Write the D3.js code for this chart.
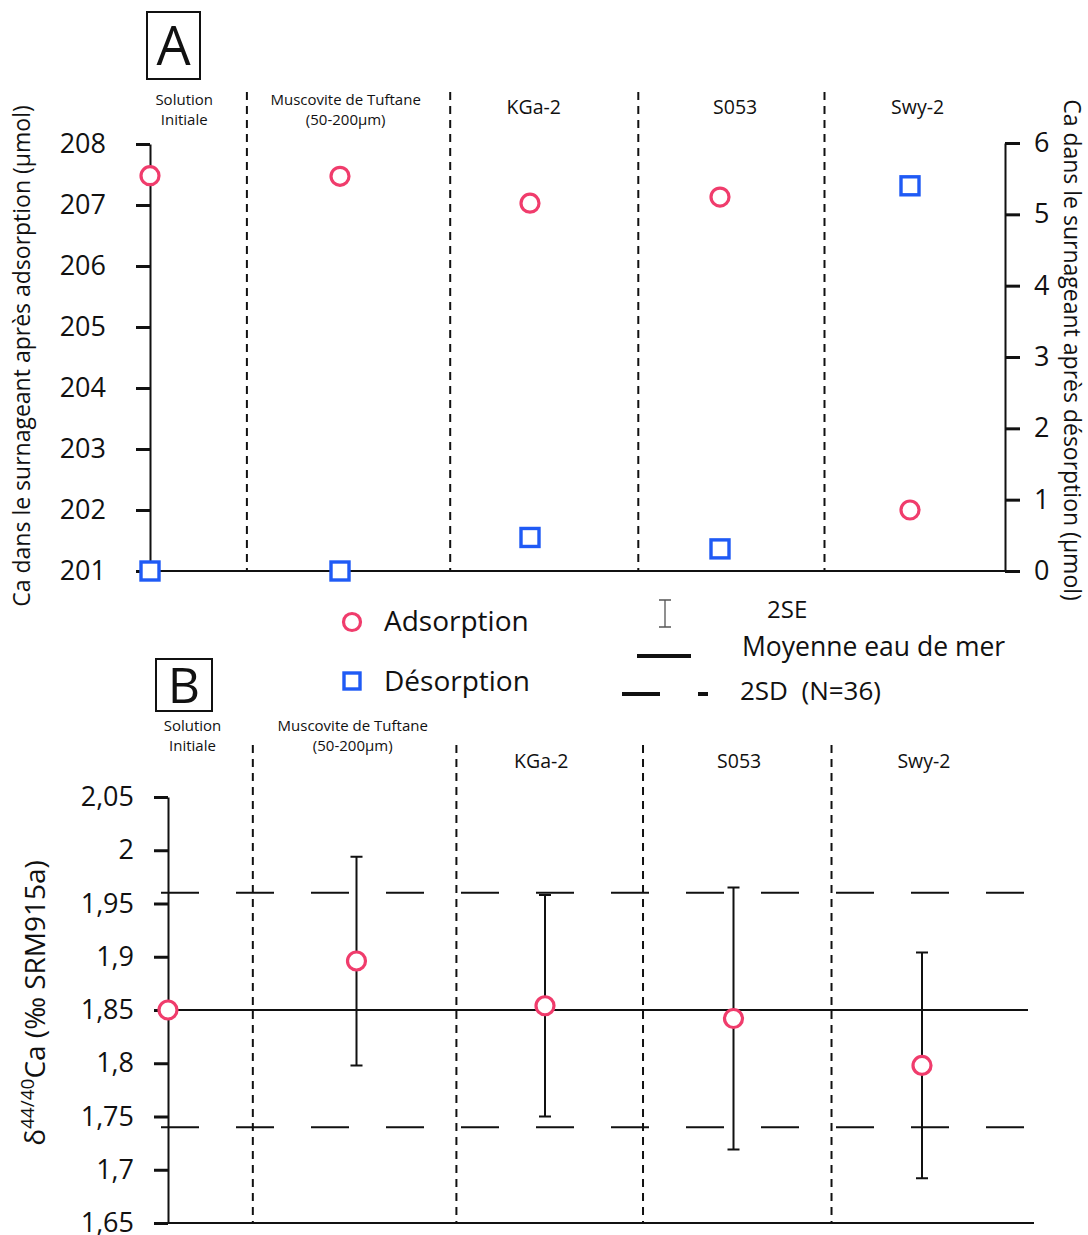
<!DOCTYPE html>
<html><head><meta charset="utf-8">
<script src="https://cdn.jsdelivr.net/npm/d3@7"></script>
<style>
body{margin:0;background:#fff}
text{font-family:"Open Sans",sans-serif;fill:#111}
</style>
</head><body>
<svg id="c" width="1088" height="1235"></svg>
<script>
// ---------- data ----------
const categories = ["Solution Initiale","Muscovite de Tuftane (50-200µm)","KGa-2","S053","Swy-2"];
const catLabels = [["Solution","Initiale"],["Muscovite de Tuftane","(50-200µm)"],["KGa-2"],["S053"],["Swy-2"]];
const adsorptionCa = [207.48, 207.47, 207.03, 207.13, 202.0];   // µmol, left axis
const desorptionCa = [0, 0, 0.47, 0.31, 5.4];                  // µmol, right axis
const deltaCa = [1.85, 1.896, 1.854, 1.842, 1.798];            // ‰ SRM915a
const err2SE = [null, 0.098, 0.104, 0.123, 0.106];
const seawaterMean = 1.85;
const seawater2SD = 0.11;
const ticksLeftA = [201,202,203,204,205,206,207,208];
const ticksRightA = [0,1,2,3,4,5,6];
const ticksB = [1.65,1.7,1.75,1.8,1.85,1.9,1.95,2,2.05];

// ---------- layout (category units) ----------
const dividersA = [0.51,1.58,2.57,3.55];
const dividersB = [0.45,1.53,2.52,3.52];
const headerPosA = [0.18,1.03,2.02,3.08,4.04];
const headerPosB = [0.13,0.98,1.98,3.03,4.01];

const RED = "#f03c6c", BLUE = "#1f5af5";
const svg = d3.select("#c");

// ---------- helpers ----------
function circleMark(g, x, y, r){
  g.append("circle").attr("cx",x).attr("cy",y).attr("r",r)
   .attr("fill","#fff").attr("stroke",RED).attr("stroke-width",3.2);
}
function squareMark(g, x, y, s){
  g.append("rect").attr("x",x-s/2).attr("y",y-s/2).attr("width",s).attr("height",s)
   .attr("fill","#fff").attr("stroke",BLUE).attr("stroke-width",3.4);
}
function panelLabel(x,y,w,h,t,fs){
  svg.append("rect").attr("x",x).attr("y",y).attr("width",w).attr("height",h)
    .attr("fill","none").attr("stroke","#111").attr("stroke-width",2);
  svg.append("text").attr("x",x+w/2).attr("y",y+h/2).attr("dy","0.36em").attr("text-anchor","middle")
    .style("font-size",fs+"px").text(t);
}
function styleAxis(g){
  g.select(".domain").attr("stroke","#111").attr("stroke-width",2);
  g.selectAll(".tick line").attr("stroke","#111").attr("stroke-width",3);
  g.selectAll(".tick text").style("font-size","27px").attr("fill","#111");
}
function catHeaders(xs, pos, yTop, ySmall){
  catLabels.forEach((lines,i)=>{
    const cx = xs(pos[i]);
    if(lines.length===2){
      lines.forEach((l,k)=> svg.append("text").attr("x",cx).attr("y",yTop+k*20)
        .attr("text-anchor","middle").style("font-size","15px").text(l));
    } else {
      svg.append("text").attr("x",cx).attr("y",ySmall).attr("text-anchor","middle")
        .style("font-size","19.5px").text(lines[0]);
    }
  });
}

// ================= PANEL A =================
const xA = d3.scaleLinear().domain([0,4]).range([150,910]);
const yL = d3.scaleLinear().domain([201,208]).range([571,144]);
const yR = d3.scaleLinear().domain([0,6]).range([571,143]);
const rightAxisX = 1005;

panelLabel(147,12,53,67,"A",54);
catHeaders(xA, headerPosA, 105, 114);

const gA = svg.append("g");
dividersA.forEach(d=>{
  gA.append("line").attr("x1",xA(d)).attr("x2",xA(d)).attr("y1",92).attr("y2",yL(201))
    .attr("stroke","#111").attr("stroke-width",2).attr("stroke-dasharray","8,6");
});
gA.append("line").attr("x1",xA(0)).attr("x2",rightAxisX).attr("y1",yL(201)).attr("y2",yL(201))
  .attr("stroke","#111").attr("stroke-width",2);

const axL = gA.append("g").attr("transform",`translate(${xA(0)},0)`)
  .call(d3.axisLeft(yL).tickValues(ticksLeftA).tickSize(14).tickSizeOuter(0).tickPadding(30).tickFormat(d3.format("d")));
styleAxis(axL);
const axR = gA.append("g").attr("transform",`translate(${rightAxisX},0)`)
  .call(d3.axisRight(yR).tickValues(ticksRightA).tickSize(15).tickSizeOuter(0).tickPadding(14).tickFormat(d3.format("d")));
styleAxis(axR);

svg.append("text").attr("transform","translate(30,356) rotate(-90)").attr("text-anchor","middle")
  .style("font-size","23px").text("Ca dans le surnageant après adsorption (µmol)");
svg.append("text").attr("transform","translate(1064,350) rotate(90)").attr("text-anchor","middle")
  .style("font-size","23px").text("Ca dans le surnageant après désorption (µmol)");

adsorptionCa.forEach((v,i)=> circleMark(gA, xA(i), yL(v), 9));
desorptionCa.forEach((v,i)=> squareMark(gA, xA(i), yR(v), 18));

// ================= LEGEND =================
const lg = svg.append("g");
circleMark(lg, 352, 622, 8.5);
lg.append("text").attr("x",384).attr("y",631).style("font-size","28px").text("Adsorption");
squareMark(lg, 352, 681, 16);
lg.append("text").attr("x",384).attr("y",691).style("font-size","28px").text("Désorption");
lg.append("path").attr("d","M659,600H671M665,600V627M659,627H671").attr("stroke","#555").attr("stroke-width",1.3).attr("fill","none");
lg.append("text").attr("x",767).attr("y",618).style("font-size","24px").text("2SE");
lg.append("line").attr("x1",637).attr("x2",691).attr("y1",656).attr("y2",656).attr("stroke","#111").attr("stroke-width",4);
lg.append("text").attr("x",742).attr("y",656).style("font-size","26.5px").text("Moyenne eau de mer");
lg.append("line").attr("x1",622).attr("x2",660).attr("y1",694).attr("y2",694).attr("stroke","#111").attr("stroke-width",4);
lg.append("line").attr("x1",698).attr("x2",708).attr("y1",694).attr("y2",694).attr("stroke","#111").attr("stroke-width",4);
lg.append("text").attr("x",740).attr("y",700).style("font-size","26px").attr("xml:space","preserve").text("2SD  (N=36)");

// ================= PANEL B =================
const xB = d3.scaleLinear().domain([0,4]).range([168,922]);
const yB = d3.scaleLinear().domain([1.65,2.05]).range([1223,797]);
const rightEndB = 1034;

panelLabel(156,659,56,52,"B",50);
catHeaders(xB, headerPosB, 731, 768);

const gB = svg.append("g");
dividersB.forEach(d=>{
  gB.append("line").attr("x1",xB(d)).attr("x2",xB(d)).attr("y1",745).attr("y2",yB(1.65))
    .attr("stroke","#111").attr("stroke-width",2).attr("stroke-dasharray","8,6");
});
[seawaterMean+seawater2SD, seawaterMean-seawater2SD].forEach(v=>{
  gB.append("line").attr("x1",161).attr("x2",1028).attr("y1",yB(v)).attr("y2",yB(v))
    .attr("stroke","#111").attr("stroke-width",2).attr("stroke-dasharray","38,37");
});
gB.append("line").attr("x1",xB(0)).attr("x2",1028).attr("y1",yB(seawaterMean)).attr("y2",yB(seawaterMean))
  .attr("stroke","#111").attr("stroke-width",2.2);
gB.append("line").attr("x1",xB(0)).attr("x2",rightEndB).attr("y1",yB(1.65)).attr("y2",yB(1.65))
  .attr("stroke","#111").attr("stroke-width",2);

const axB = gB.append("g").attr("transform",`translate(${xB(0)},0)`)
  .call(d3.axisLeft(yB).tickValues(ticksB).tickSize(14).tickSizeOuter(0).tickPadding(20)
    .tickFormat(v=> String(+v.toFixed(2)).replace(".",",")));
styleAxis(axB);

const tB = svg.append("text").attr("transform","translate(45,1003) rotate(-90)").attr("text-anchor","middle")
  .style("font-size","28px");
tB.append("tspan").text("δ");
tB.append("tspan").attr("dy",-11).style("font-size","19px").text("44/40");
tB.append("tspan").attr("dy",11).text("Ca (‰ SRM915a)");

deltaCa.forEach((v,i)=>{
  const e = err2SE[i];
  if(e==null) return;
  const x = xB(i);
  gB.append("path").attr("d",`M${x-6},${yB(v+e)}H${x+6}M${x},${yB(v+e)}V${yB(v-e)}M${x-6},${yB(v-e)}H${x+6}`)
    .attr("stroke","#111").attr("stroke-width",2).attr("fill","none");
});
deltaCa.forEach((v,i)=> circleMark(gB, xB(i), yB(v), 9));
</script>
</body></html>
